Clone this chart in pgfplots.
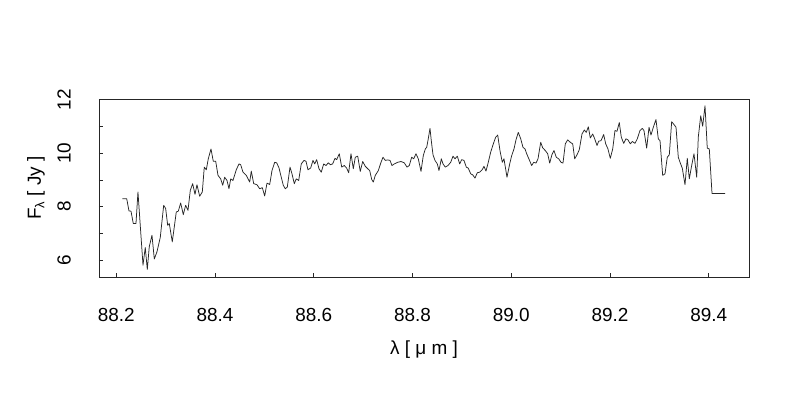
\documentclass[border=0pt]{standalone}
\usepackage{pgfplots}
\usepackage{pgfplotstable}
\pgfplotsset{compat=1.18}
\usepackage{fontspec}
\setmainfont{Liberation Sans}
\pgfplotstableread{
x y
88.2124 8.30
88.2213 8.30
88.2259 7.84
88.2300 7.83
88.2346 7.37
88.2401 7.37
88.2441 8.55
88.2543 5.81
88.2589 6.47
88.2630 5.65
88.2670 6.50
88.2725 6.93
88.2772 6.04
88.2826 6.31
88.2893 6.85
88.2962 8.05
88.3002 7.93
88.3043 7.30
88.3075 7.37
88.3136 6.68
88.3217 7.80
88.3258 7.83
88.3306 8.14
88.3359 7.70
88.3407 8.05
88.3454 7.86
88.3501 8.61
88.3549 8.86
88.3596 8.46
88.3636 8.82
88.3691 8.39
88.3744 8.55
88.3784 9.48
88.3825 9.38
88.3865 9.79
88.3920 10.16
88.3966 9.70
88.4015 9.70
88.4062 9.17
88.4116 9.04
88.4157 8.80
88.4197 9.10
88.4244 8.98
88.4284 8.67
88.4319 9.04
88.4365 8.98
88.4432 9.38
88.4487 9.60
88.4521 9.57
88.4568 9.29
88.4635 9.17
88.4704 8.92
88.4736 9.33
88.4785 8.86
88.4851 8.82
88.4906 8.67
88.4959 8.71
88.5007 8.40
88.5054 8.88
88.5109 8.83
88.5155 9.35
88.5210 9.66
88.5250 9.64
88.5297 9.45
88.5343 9.10
88.5384 8.80
88.5424 8.67
88.5465 8.73
88.5520 9.48
88.5560 9.23
88.5607 8.86
88.5647 9.04
88.5696 8.98
88.5748 9.60
88.5803 9.73
88.5844 9.70
88.5884 9.38
88.5939 9.45
88.5985 9.73
88.6020 9.60
88.6060 9.76
88.6107 9.42
88.6153 9.29
88.6202 9.60
88.6249 9.54
88.6295 9.64
88.6336 9.57
88.6384 9.60
88.6431 9.81
88.6465 9.76
88.6518 9.98
88.6567 9.48
88.6619 9.54
88.6668 9.44
88.6708 9.27
88.6755 9.98
88.6802 9.42
88.6842 9.85
88.6891 9.89
88.6943 9.32
88.6992 9.69
88.7045 9.51
88.7093 9.42
88.7134 9.35
88.7174 9.02
88.7207 8.92
88.7247 9.17
88.7308 9.35
88.7363 9.66
88.7403 9.85
88.7450 9.73
88.7498 9.75
88.7545 9.73
88.7585 9.54
88.7632 9.60
88.7701 9.66
88.7768 9.69
88.7834 9.64
88.7889 9.48
88.7936 9.54
88.7984 9.85
88.8025 9.79
88.8071 9.98
88.8118 9.79
88.8173 9.32
88.8219 9.91
88.8260 10.16
88.8288 10.22
88.8320 10.54
88.8355 10.93
88.8381 10.47
88.8416 9.94
88.8456 9.73
88.8503 9.60
88.8537 9.35
88.8584 9.79
88.8618 9.60
88.8665 9.48
88.8719 9.54
88.8774 9.66
88.8821 9.89
88.8861 9.79
88.8908 9.89
88.8956 9.60
88.8997 9.76
88.9043 9.73
88.9090 9.48
88.9130 9.44
88.9179 9.23
88.9220 9.19
88.9266 9.07
88.9313 9.27
88.9361 9.29
88.9414 9.39
88.9448 9.51
88.9489 9.33
88.9535 9.66
88.9584 10.04
88.9637 10.35
88.9685 10.60
88.9726 10.68
88.9772 10.10
88.9819 9.66
88.9853 9.79
88.9914 9.10
88.9969 9.60
89.0009 9.91
89.0056 10.16
89.0096 10.50
89.0143 10.78
89.0192 10.54
89.0238 10.22
89.0279 10.16
89.0313 9.98
89.0366 9.75
89.0414 9.54
89.0455 9.66
89.0501 9.63
89.0542 9.79
89.0597 10.41
89.0637 10.20
89.0690 10.10
89.0738 9.98
89.0779 9.63
89.0825 9.95
89.0866 10.10
89.0912 9.85
89.0961 9.79
89.1008 9.66
89.1048 9.63
89.1095 10.35
89.1143 10.50
89.1196 10.41
89.1245 10.35
89.1285 9.79
89.1332 9.94
89.1378 10.13
89.1433 10.72
89.1480 10.87
89.1520 10.78
89.1561 10.99
89.1601 10.57
89.1650 10.72
89.1690 10.54
89.1737 10.29
89.1771 10.45
89.1818 10.47
89.1872 10.70
89.1913 10.35
89.1959 10.16
89.2006 9.81
89.2055 10.16
89.2101 10.85
89.2142 10.82
89.2188 11.15
89.2229 10.60
89.2277 10.37
89.2324 10.54
89.2364 10.50
89.2411 10.35
89.2452 10.44
89.2506 10.37
89.2553 10.54
89.2607 10.85
89.2654 10.93
89.2688 10.85
89.2743 10.19
89.2790 10.97
89.2830 10.68
89.2877 10.97
89.2931 11.26
89.2978 10.54
89.3013 10.47
89.3067 9.17
89.3114 9.23
89.3160 9.85
89.3201 9.94
89.3249 11.18
89.3302 11.06
89.3337 10.97
89.3383 9.85
89.3418 9.66
89.3464 9.44
89.3519 8.82
89.3565 9.81
89.3606 9.04
89.3654 9.54
89.3701 9.98
89.3756 9.10
89.3788 10.60
89.3837 11.40
89.3877 11.01
89.3924 11.78
89.3970 10.19
89.4011 10.16
89.4066 8.49
89.4329 8.49
}\spectrum
\begin{document}
\begin{tikzpicture}
\path[use as bounding box] (-99bp,-123bp) rectangle (701bp,277bp);
\begin{axis}[
  at={(0,0)}, anchor=south west,
  scale only axis, width=650bp, height=178bp,
  xmin=88.1652, xmax=89.4815, ymin=5.366, ymax=12.03,
  axis line style={black!85, line width=0.7bp},
  tick style={black!85, line width=0.7bp},
  tick align=inside, tick pos=left, major tick length=4.5bp,
  xtick={88.2,88.4,88.6,88.8,89.0,89.2,89.4},
  xticklabels={88.2,88.4,88.6,88.8,89.0,89.2,89.4},
  ytick={6,7,8,9,10,11,12},
  yticklabels={6,,8,,10,,12},
  xticklabel style={anchor=center, yshift=-38bp, font=\fontsize{19}{19}\selectfont},
  yticklabel style={xshift=-35bp, rotate=90, anchor=center, font=\fontsize{19}{19}\selectfont},
  xlabel={λ [ μ m ]},
  ylabel={F\raisebox{-0.35ex}{\fontsize{13}{13}\selectfont λ} [ Jy ]},
  every axis x label/.style={at={(axis description cs:0.5,0)}, anchor=center, yshift=-73bp, font=\fontsize{19}{19}\selectfont},
  every axis y label/.style={at={(axis description cs:0,0.5)}, xshift=-63bp, rotate=90, anchor=center, font=\fontsize{19}{19}\selectfont},
  clip=false,
]
\addplot[black!85, line width=0.75bp, line join=round] table[x=x, y=y] {\spectrum};
\end{axis}
\end{tikzpicture}
\end{document}
